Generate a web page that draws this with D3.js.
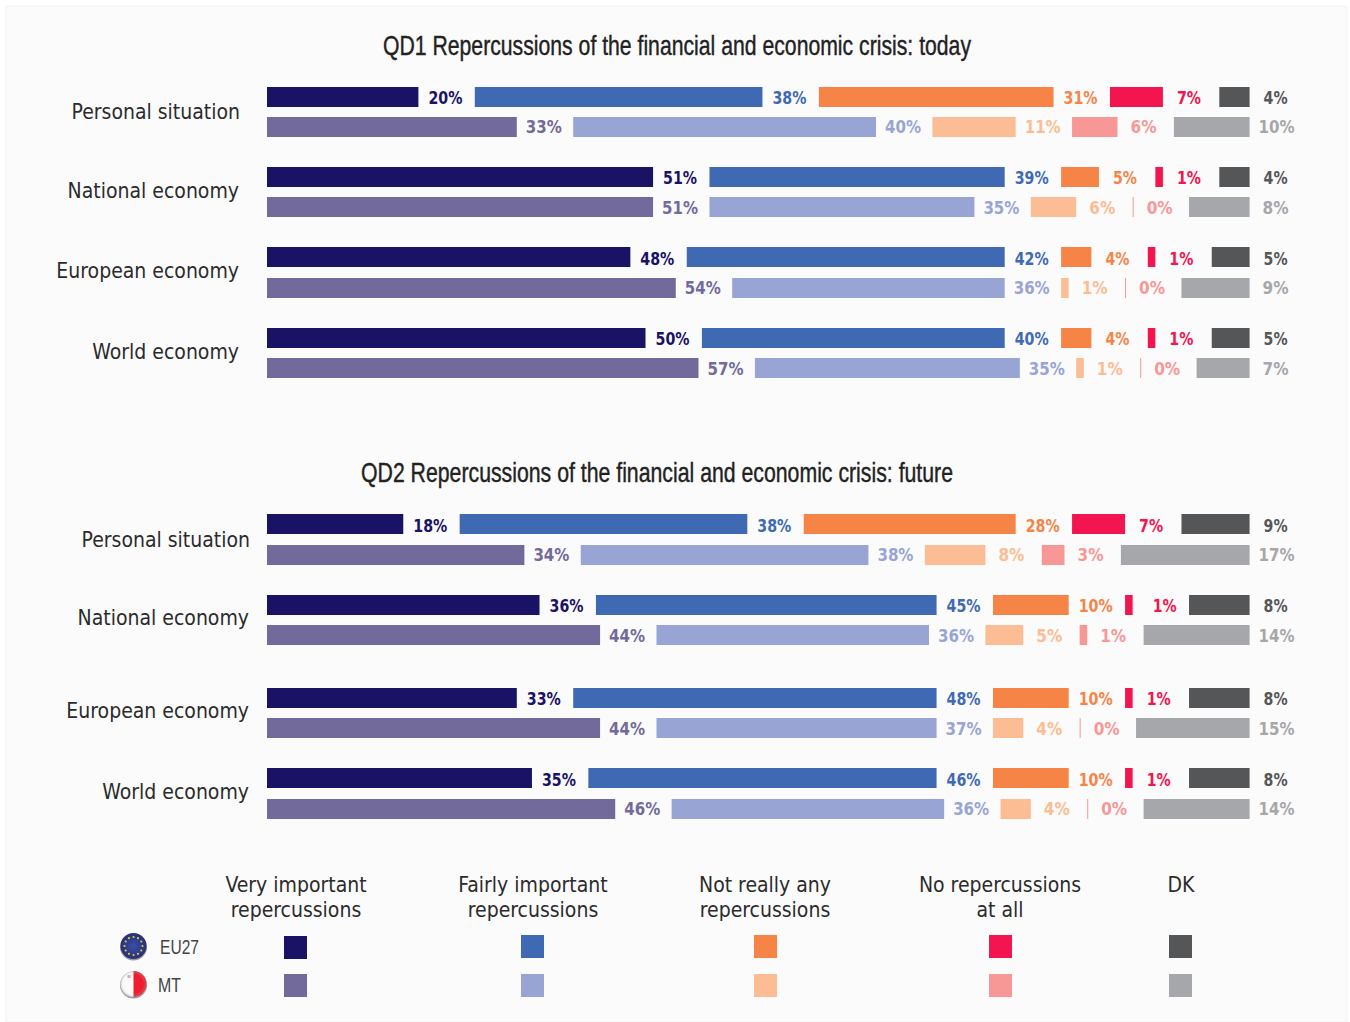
<!DOCTYPE html>
<html>
<head>
<meta charset="utf-8">
<script src="https://cdn.jsdelivr.net/npm/d3@7"></script>
<style>
    html, body { margin: 0; padding: 0; background: #fff; }
    svg { display: block; }
    .title { font-family: "Liberation Sans", sans-serif; font-size: 27.5px; fill: #222; stroke: #222; stroke-width: 0.4px; }
    .cat { font-family: "DejaVu Sans Condensed", "DejaVu Sans", sans-serif; font-size: 21px; fill: #2b2b2b; }
    .val { font-family: "DejaVu Sans Condensed", "DejaVu Sans", sans-serif; font-size: 18px; font-weight: bold; text-anchor: middle; }
    .head { font-family: "DejaVu Sans Condensed", "DejaVu Sans", sans-serif; font-size: 21px; fill: #2b2b2b; text-anchor: middle; }
    .geo { font-family: "Liberation Sans", sans-serif; font-size: 21px; fill: #444; }
</style>
</head>
<body>
<svg id="chart" width="1350" height="1022"></svg>
<script>
const categories = ["Personal situation", "National economy", "European economy", "World economy"];
const answers = ["Very important\nrepercussions", "Fairly important\nrepercussions", "Not really any\nrepercussions", "No repercussions\nat all", "DK"];

const qd1Title = "QD1 Repercussions of the financial and economic crisis: today";
const qd1Eu = [[20, 38, 31, 7, 4], [51, 39, 5, 1, 4], [48, 42, 4, 1, 5], [50, 40, 4, 1, 5]];
const qd1Mt = [[33, 40, 11, 6, 10], [51, 35, 6, 0, 8], [54, 36, 1, 0, 9], [57, 35, 1, 0, 7]];

const qd2Title = "QD2 Repercussions of the financial and economic crisis: future";
const qd2Eu = [[18, 38, 28, 7, 9], [36, 45, 10, 1, 8], [33, 48, 10, 1, 8], [35, 46, 10, 1, 8]];
const qd2Mt = [[34, 38, 8, 3, 17], [44, 36, 5, 1, 14], [44, 37, 4, 0, 15], [46, 36, 4, 0, 14]];

const euColors = ["#191265", "#3f6ab3", "#f78447", "#f2154f", "#555658"];
const mtColors = ["#736a9c", "#98a5d4", "#fcbd94", "#f79896", "#a6a7aa"];

const svg = d3.select("#chart");
const barH = 20, gap = 56.4;
const x = d3.scaleLinear().domain([0, 100]).range([267, 1024]);
const w = v => Math.max(1, x(v) - x(0));
// the source squeezes its bold labels, one digit is about 10px and % about 14px
const labelW = (v, extra) => String(v).length * 10 + 14 + extra;

svg.append("rect").attr("x", 6).attr("y", 6).attr("width", 1341).attr("height", 1016)
    .attr("fill", "#fbfbfb").attr("stroke", "#f3f3f3").attr("stroke-width", 1);

function drawPanel(o) {
    const yCat = d3.scaleOrdinal().domain(categories).range(o.catY);

    svg.append("text").attr("class", "title")
        .attr("x", o.titleX).attr("y", o.titleY)
        .attr("textLength", o.titleW).attr("lengthAdjust", "spacingAndGlyphs")
        .text(o.title);

    svg.append("g").selectAll("text")
        .data(categories)
        .enter()
        .append("text")
        .attr("class", "cat")
        .attr("x", (d, i) => o.catX[i])
        .attr("y", d => yCat(d))
        .attr("text-anchor", "end")
        .text(d => d);

    const rows = [
        { values: o.eu, tops: o.euTops, base: o.euBase, colors: euColors, key: "eu", extra: 0 },
        { values: o.mt, tops: o.mtTops, base: o.mtBase, colors: mtColors, key: "mt", extra: 2 }
    ];

    rows.forEach(row => {
        const y = d3.scaleOrdinal().domain(categories).range(row.tops);
        const yLabel = d3.scaleOrdinal().domain(categories).range(row.base);
        const segs = row.values.flatMap((vals, c) => {
            const starts = [0, ...d3.cumsum(vals)];
            return vals.map((v, i) => ({
                cat: categories[c], c, v, i,
                left: x(starts[i]) + i * gap
            }));
        });

        const g = svg.append("g");
        g.selectAll("rect")
            .data(segs)
            .enter()
            .append("rect")
            .attr("x", d => d.left)
            .attr("y", d => y(d.cat))
            .attr("width", d => w(d.v))
            .attr("height", barH)
            .attr("fill", d => row.colors[d.i]);

        g.selectAll("text")
            .data(segs)
            .enter()
            .append("text")
            .attr("class", "val")
            .attr("x", d => {
                const n = o.nudge && o.nudge.row === row.key && o.nudge.c === d.c && o.nudge.i === d.i ? o.nudge.dx : 0;
                return d.left + w(d.v) + (d.v < 10 ? 26 : 27) + n;
            })
            .attr("y", d => yLabel(d.cat))
            .attr("fill", d => row.colors[d.i])
            .attr("textLength", d => labelW(d.v, row.extra))
            .attr("lengthAdjust", "spacingAndGlyphs")
            .text(d => d.v + "%");
    });
}

drawPanel({
    title: qd1Title, titleX: 383, titleY: 55, titleW: 588,
    eu: qd1Eu, mt: qd1Mt,
    euTops: [87, 167, 247, 328], mtTops: [117, 197, 278, 358],
    euBase: [104, 184, 265, 345], mtBase: [133, 214, 294, 375],
    catX: [240, 239, 239, 239], catY: [119, 198, 278, 359]
});

drawPanel({
    title: qd2Title, titleX: 361, titleY: 482, titleW: 592,
    eu: qd2Eu, mt: qd2Mt,
    euTops: [514, 595, 688, 768], mtTops: [545, 625, 718, 799],
    euBase: [532, 612, 705, 786], mtBase: [561, 642, 735, 815],
    catX: [250, 249, 249, 249], catY: [547, 625, 718, 799],
    nudge: { row: "eu", c: 1, i: 3, dx: 6 }
});

// legend
const legendX = d3.scaleOrdinal().domain(answers).range([296, 533, 765, 1000, 1181]);
const swatchX = d3.scaleOrdinal().domain(answers).range([284, 521, 754, 989, 1169]);
const legend = svg.append("g");
answers.forEach(a => {
    const t = legend.append("text").attr("class", "head").attr("y", 892);
    a.split("\n").forEach((line, i) => {
        t.append("tspan").attr("x", legendX(a)).attr("dy", i ? 25 : 0).text(line);
    });
});

[{ colors: euColors, y: 935 }, { colors: mtColors, y: 974 }].forEach(row => {
    legend.append("g").selectAll("rect")
        .data(answers)
        .enter()
        .append("rect")
        .attr("x", d => swatchX(d))
        .attr("y", (d, i) => row.y + (row.y === 935 && i === 0 ? 1 : 0))
        .attr("width", 23)
        .attr("height", 23)
        .attr("fill", (d, i) => row.colors[i]);
});

// flags
const defs = svg.append("defs");
const euGrad = defs.append("radialGradient").attr("id", "euGrad");
euGrad.append("stop").attr("offset", "0%").attr("stop-color", "#3a4fa6");
euGrad.append("stop").attr("offset", "100%").attr("stop-color", "#27307a");
const gloss = defs.append("radialGradient").attr("id", "gloss");
gloss.append("stop").attr("offset", "75%").attr("stop-color", "#fff").attr("stop-opacity", 0);
gloss.append("stop").attr("offset", "100%").attr("stop-color", "#777").attr("stop-opacity", 0.35);

const eu = svg.append("g").attr("transform", "translate(133.5,946)");
eu.append("circle").attr("cy", 1).attr("r", 13.5).attr("fill", "#999");
eu.append("circle").attr("r", 13).attr("fill", "url(#euGrad)");
eu.selectAll(".star")
    .data(d3.range(12))
    .enter()
    .append("circle")
    .attr("class", "star")
    .attr("cx", d => 9 * Math.cos(d * Math.PI / 6))
    .attr("cy", d => 9 * Math.sin(d * Math.PI / 6))
    .attr("r", 1.1)
    .attr("fill", "#e8c92f");

const mt = svg.append("g").attr("transform", "translate(133.5,984)");
mt.append("circle").attr("cy", 1).attr("r", 13.5).attr("fill", "#999");
mt.append("circle").attr("r", 13).attr("fill", "#fafafa");
mt.append("path").attr("d", d3.arc()({ innerRadius: 0, outerRadius: 13, startAngle: 0, endAngle: Math.PI })).attr("fill", "#ee1c2e");
mt.append("rect").attr("x", -6).attr("y", -9).attr("width", 3).attr("height", 3).attr("fill", "#f2a0a0");
mt.append("circle").attr("r", 13).attr("fill", "url(#gloss)");

svg.append("text").attr("class", "geo").attr("x", 160).attr("y", 954)
    .attr("textLength", 39).attr("lengthAdjust", "spacingAndGlyphs").text("EU27");
svg.append("text").attr("class", "geo").attr("x", 158).attr("y", 992)
    .attr("textLength", 23).attr("lengthAdjust", "spacingAndGlyphs").text("MT");
</script>
</body>
</html>
